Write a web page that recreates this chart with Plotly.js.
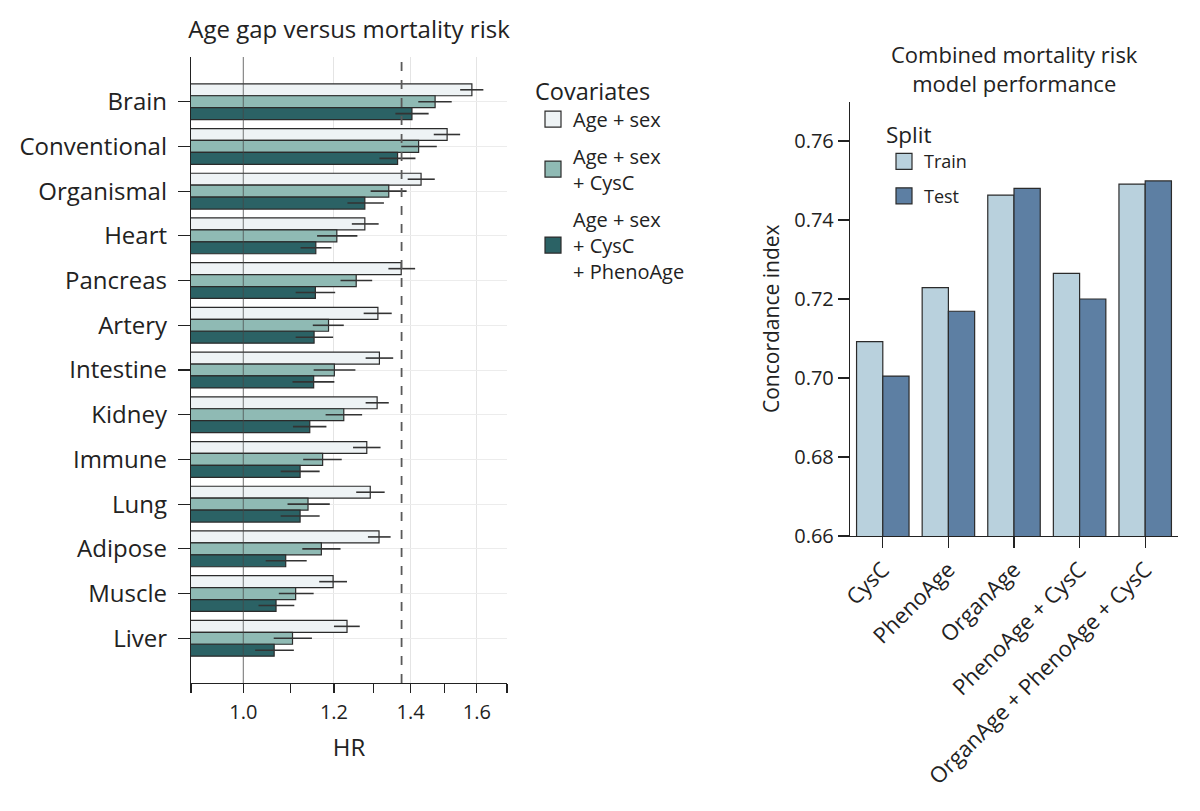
<!DOCTYPE html>
<html><head><meta charset="utf-8">
<script src="https://cdn.plot.ly/plotly-3.0.1.min.js"></script>
<style>html,body{margin:0;padding:0;background:#fff}#chart{width:1200px;height:811px}</style>
</head><body><div id="chart"></div>
<script>
// ---- Data ----
const organs = ['Brain','Conventional','Organismal','Heart','Pancreas','Artery','Intestine','Kidney','Immune','Lung','Adipose','Muscle','Liver'];
const hrAgeSex = [1.584,1.507,1.430,1.277,1.374,1.311,1.315,1.309,1.282,1.291,1.314,1.198,1.232];
const loAgeSex = [1.547,1.467,1.392,1.244,1.339,1.274,1.279,1.279,1.247,1.255,1.285,1.165,1.200];
const hiAgeSex = [1.621,1.547,1.470,1.313,1.413,1.348,1.352,1.340,1.318,1.329,1.345,1.232,1.264];
const hrCysC = [1.471,1.423,1.340,1.207,1.255,1.187,1.201,1.224,1.173,1.139,1.170,1.111,1.104];
const loCysC = [1.422,1.374,1.292,1.160,1.216,1.150,1.152,1.180,1.128,1.093,1.126,1.074,1.063];
const hiCysC = [1.521,1.476,1.389,1.258,1.296,1.224,1.253,1.270,1.219,1.190,1.216,1.152,1.148];
const hrPheno = [1.404,1.364,1.277,1.157,1.156,1.153,1.152,1.143,1.121,1.121,1.089,1.068,1.064];
const loPheno = [1.358,1.315,1.233,1.122,1.111,1.111,1.104,1.105,1.078,1.078,1.046,1.031,1.024];
const hiPheno = [1.452,1.414,1.327,1.194,1.203,1.198,1.201,1.182,1.166,1.166,1.136,1.108,1.107];
const hrThreshold = 1.375;
const hrTicks = [1.0,1.2,1.4,1.6];
const hrTickText = ['1.0','1.2','1.4','1.6'];
const hrMinorTicks = [0.9,1.1,1.3,1.5,1.7];

const models = ['CysC','PhenoAge','OrganAge','PhenoAge + CysC','OrganAge + PhenoAge + CysC'];
const cTrain = [0.7092,0.7229,0.7463,0.7265,0.7491];
const cTest = [0.7005,0.7169,0.7480,0.7200,0.7499];
const cTicks = [0.66,0.68,0.70,0.72,0.74,0.76];

// ---- Styles ----
const FONT = 'Open Sans, Liberation Sans, Arial, sans-serif';
const INK = '#222222';
const EDGE = '#2b2b2b';
const colAgeSex = '#eef3f5', colCysC = '#8fbab4', colPheno = '#2b6265';
const colTrain = '#b9d1dd', colTest = '#5d7fa3';

function hbar(name, vals, lo, hi, color){
  return {
    type:'bar', orientation:'h', name:name, y:organs, x:vals,
    xaxis:'x', yaxis:'y', showlegend:false,
    marker:{color:color, line:{color:EDGE, width:1.2}},
    error_x:{type:'data', symmetric:false,
      array: hi.map((h,i)=>h-vals[i]), arrayminus: lo.map((l,i)=>vals[i]-l),
      width:0, thickness:1.6, color:'#333'},
    hoverinfo:'x+y'
  };
}
function legendDummy(name, color, legend, group){
  return {type:'scatter', mode:'markers', x:[null], y:[null],
    xaxis: legend==='legend' ? 'x' : 'x2', yaxis: legend==='legend' ? 'y' : 'y2',
    name:name, legend:legend, legendgroup:group, showlegend:true, hoverinfo:'skip',
    marker:{symbol:'square', size:16, color:color, line:{color:EDGE, width:1.2}}};
}

const traces = [
  hbar('Age + sex', hrAgeSex, loAgeSex, hiAgeSex, colAgeSex),
  hbar('Age + sex + CysC', hrCysC, loCysC, hiCysC, colCysC),
  hbar('Age + sex + CysC + PhenoAge', hrPheno, loPheno, hiPheno, colPheno),
  {type:'bar', name:'Train', x:models, y:cTrain, xaxis:'x2', yaxis:'y2', showlegend:false,
   marker:{color:colTrain, line:{color:EDGE, width:1.2}}},
  {type:'bar', name:'Test', x:models, y:cTest, xaxis:'x2', yaxis:'y2', showlegend:false,
   marker:{color:colTest, line:{color:EDGE, width:1.2}}},
  legendDummy('Age + sex', colAgeSex, 'legend', 'g1'),
  legendDummy('Age + sex<br>+ CysC', colCysC, 'legend', 'g2'),
  legendDummy('Age + sex<br>+ CysC<br>+ PhenoAge', colPheno, 'legend', 'g3'),
  legendDummy('Train', colTrain, 'legend2', 'h1'),
  legendDummy('Test', colTest, 'legend2', 'h2')
];

const layout = {
  width:1200, height:811,
  margin:{l:0, r:0, t:0, b:0},
  paper_bgcolor:'#fff', plot_bgcolor:'rgba(0,0,0,0)',
  font:{family:FONT, color:INK, size:20},
  barmode:'group', bargap:0.2, bargroupgap:0,
  title:{text:'Age gap versus mortality risk', font:{size:24, family:FONT, color:INK},
    x:349/1200, xanchor:'center', xref:'paper', y:(811-30)/811, yanchor:'middle', yref:'paper'},
  xaxis:{domain:[191/1200, 507/1200], anchor:'y', type:'log',
    range:[Math.log10(0.9), Math.log10(1.7)],
    tickvals:hrTicks, ticktext:hrTickText, tickfont:{size:20}, ticklabelstandoff:2,
    ticks:'outside', ticklen:9, tickwidth:1.2, tickcolor:INK,
    showline:true, linecolor:INK, linewidth:1.2,
    showgrid:true, gridcolor:'#e4e4e4', gridwidth:1, zeroline:false,
    minor:{tickvals:hrMinorTicks, ticks:'outside', ticklen:9, tickwidth:1.2, tickcolor:INK, showgrid:false},
    title:{text:'HR', font:{size:24}, standoff:15}
  },
  yaxis:{domain:[(811-683)/811, (811-57)/811], anchor:'x', type:'category',
    range:[13,-1], tickfont:{size:24},
    ticks:'outside', ticklen:12, tickwidth:1.2, tickcolor:INK, ticklabelstandoff:6,
    showline:true, linecolor:INK, linewidth:1.2,
    showgrid:true, gridcolor:'#ececec', gridwidth:1, zeroline:false},
  xaxis2:{domain:[850/1200, 1178/1200], anchor:'y2', type:'category', range:[-0.5,4.5],
    tickangle:-45, tickfont:{size:22},
    ticks:'outside', ticklen:11, tickwidth:1.2, tickcolor:INK,
    showline:true, linecolor:INK, linewidth:1.2, showgrid:false, zeroline:false},
  yaxis2:{domain:[(811-536)/811, (811-101.5)/811], anchor:'x2', range:[0.66,0.77],
    tickvals:cTicks, tickformat:'.2f', tickfont:{size:20},
    ticks:'outside', ticklen:11, tickwidth:1.2, tickcolor:INK,
    showline:true, linecolor:INK, linewidth:1.2, showgrid:false, zeroline:false,
    title:{text:'Concordance index', font:{size:21}, standoff:8}},
  shapes:[
    {type:'line', xref:'x', yref:'y domain', x0:1.0, x1:1.0, y0:0, y1:1,
     line:{color:'rgba(70,70,70,0.55)', width:1.3}, layer:'above'},
    {type:'line', xref:'x', yref:'y domain', x0:hrThreshold, x1:hrThreshold, y0:0, y1:1,
     line:{color:'#5a5a5a', width:1.8, dash:'dash'}, layer:'above'}
  ],
  annotations:[
    {text:'Combined mortality risk<br>model performance', xref:'paper', yref:'paper',
     x:1014/1200, y:(811-69)/811, xanchor:'center', yanchor:'middle', showarrow:false,
     font:{size:22, family:FONT, color:INK}}
  ],
  legend:{title:{text:'Covariates', font:{size:23.5}}, x:533/1200, xanchor:'left',
    y:(811-69)/811, yanchor:'top', font:{size:20}, tracegroupgap:8,
    bgcolor:'rgba(0,0,0,0)', itemclick:false, itemdoubleclick:false},
  legend2:{title:{text:'Split', font:{size:22.5}}, x:884/1200, xanchor:'left',
    y:(811-114)/811, yanchor:'top', font:{size:18}, tracegroupgap:8,
    bgcolor:'rgba(0,0,0,0)', itemclick:false, itemdoubleclick:false}
};

Plotly.newPlot('chart', traces, layout, {displayModeBar:false, staticPlot:true});
</script>
</body></html>
